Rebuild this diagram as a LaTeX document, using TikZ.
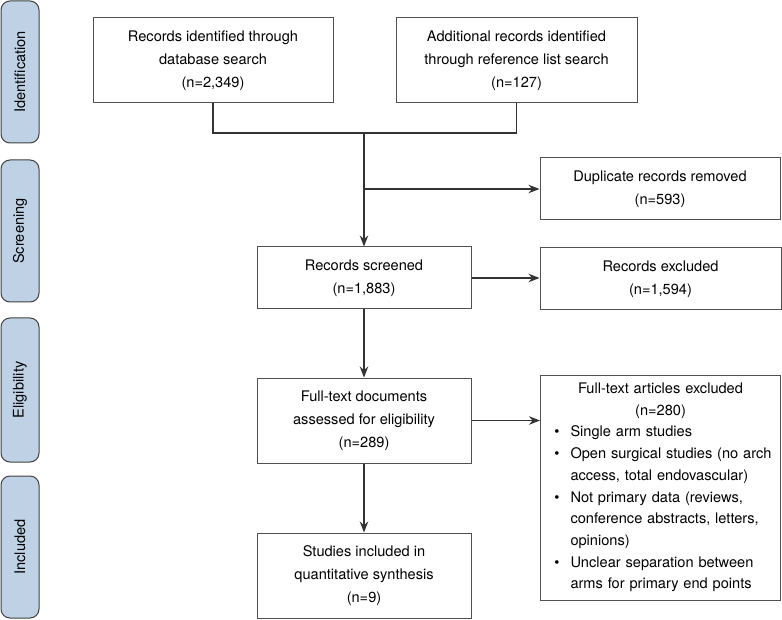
\documentclass[tikz,border=0pt]{standalone}
\usepackage{fontspec}
\setmainfont{TeX Gyre Heros}
\usepackage{tikz}
\usetikzlibrary{positioning}
\usetikzlibrary{arrows.meta}
\definecolor{phasefill}{RGB}{191,210,229}
\definecolor{boxline}{RGB}{80,80,80}
\tikzset{
  flowbox/.style = {draw=boxline, line width=1pt, align=center, inner sep=0pt,
    font=\fontsize{14.6}{23}\selectfont},% box of the flow chart
  phase/.style = {draw=black!75, fill=phasefill, rounded corners=9pt,
    line width=1pt, rotate=90, minimum height=38pt, inner sep=0pt,
    font=\fontsize{14.6}{18}\selectfont},% phase band on the left
  flowline/.style = {draw=black!80, line width=1.1pt}% connector
}
\newenvironment{exlist}{\begin{list}{\textbullet}{%
  \setlength{\leftmargin}{23pt}\setlength{\labelwidth}{12pt}%
  \setlength{\labelsep}{11pt}\setlength{\itemsep}{0pt}%
  \setlength{\parsep}{0pt}\setlength{\topsep}{0pt}%
  \setlength{\partopsep}{0pt}}}{\end{list}}

\begin{document}
\begin{tikzpicture}[x=1pt, y=-1pt, ->, >={Stealth[length=11pt,width=8.5pt]}]
\useasboundingbox (0,0) rectangle (782,620);
% phases
\node [phase, minimum width=142pt] (ident) at (20,72) {Identification};
\node [phase, minimum width=142pt] (scr) at (20,231) {Screening};
\node [phase, minimum width=144pt] (elig) at (20,390) {Eligibility};
\node [phase, minimum width=142pt] (inc) at (20,547) {Included};
% boxes
\node [flowbox, minimum width=240pt, minimum height=85pt] (recdb) at (213,60.5)
  {Records identified through\\database search\\(n=2,349)};
\node [flowbox, minimum width=241pt, minimum height=85pt] (recref) at (516.5,60.5)
  {Additional records identified\\through reference list search\\(n=127)};
\node [flowbox, minimum width=240pt, minimum height=62pt] (dup) at (660,189)
  {Duplicate records removed\\(n=593)};
\node [flowbox, minimum width=214pt, minimum height=62pt] (screen) at (364,278)
  {Records screened\\(n=1,883)};
\node [flowbox, minimum width=241pt, minimum height=62pt] (excl) at (660.5,279)
  {Records excluded\\(n=1,594)};
\node [flowbox, minimum width=214pt, minimum height=85pt] (fulltext) at (364,420.5)
  {Full-text documents\\assessed for eligibility\\(n=289)};
\node [flowbox, text width=226pt, inner xsep=7pt, minimum height=225pt,
  align=left, font=\fontsize{14.6}{21.7}\selectfont] (ftexcl) at (660.5,487.5)
  {{\centering Full-text articles excluded\\(n=280)\par}
   \begin{exlist}
   \item Single arm studies
   \item Open surgical studies (no arch\\access, total endovascular)
   \item Not primary data (reviews,\\conference abstracts, letters,\\opinions)
   \item Unclear separation between\\arms for primary end points
   \end{exlist}};
\node [flowbox, minimum width=214pt, minimum height=85pt] (incl) at (364,575.5)
  {Studies included in\\quantitative synthesis\\(n=9)};
% connectors
\coordinate (join) at (364,133);
\coordinate (dupfork) at (364,189);
\draw [flowline,-] (recdb.south) |- (join) -| (recref.south);
\draw [flowline] (join) -- (screen.north);
\draw [flowline] (dupfork) -- (dup.west);
\draw [flowline] (screen.east) -- (screen.east -| excl.west);
\draw [flowline] (screen) -- (fulltext);
\draw [flowline] (fulltext.east) -- (fulltext.east -| ftexcl.west);
\draw [flowline] (fulltext) -- (incl);
\end{tikzpicture}
\end{document}
